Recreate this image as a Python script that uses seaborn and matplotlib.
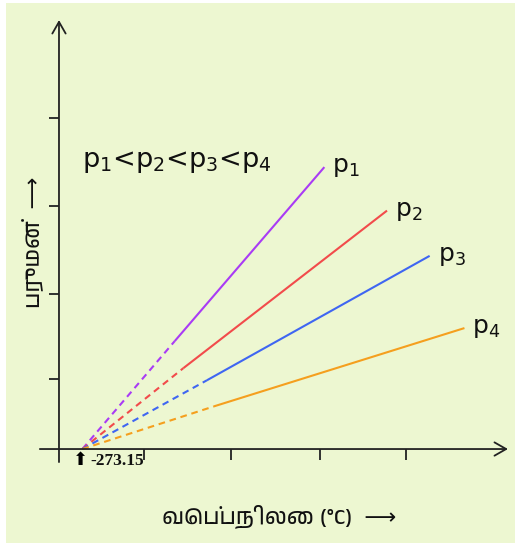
import matplotlib
matplotlib.use("Agg")
import matplotlib.pyplot as plt
from matplotlib import font_manager as fm
import pandas as pd
import seaborn as sns

# ---- data ----
series = ["p1", "p2", "p3", "p4"]
series_labels = ["p$_1$", "p$_2$", "p$_3$", "p$_4$"]
colors = ["#A93BF5", "#F24B4B", "#3F66F2", "#F59F1E"]
zero_temp = -273.15
zero_volume = 0.0
solid_start_temp = [-167, -157, -130, -122]
solid_start_vol = [1.24, 0.93, 0.79, 0.49]
end_temp = [5, 77, 126, 166]
end_vol = [3.24, 2.74, 2.22, 1.39]
x_ticks = [-202, -102, 0, 99]
y_ticks = [0.80, 1.78, 2.79, 3.80]
zero_label = "-273.15"
x_title = "வெப்பநிலை (°C)  ⟶"
y_title = "பருமன்  ⟶"
order_text = "p$_1$<p$_2$<p$_3$<p$_4$"

# ---- fonts ----
tamil = sorted({f.name for f in fm.fontManager.ttflist if "Tamil" in f.name})
fams = ([tamil[0]] if tamil else []) + ["DejaVu Sans"]

sns.set_theme(style="white")
plt.rcParams["font.family"] = ["DejaVu Sans"]
plt.rcParams["mathtext.fontset"] = "dejavusans"

fig = plt.figure(figsize=(5.16, 5.46), dpi=100, facecolor="white")
ax = fig.add_axes([6 / 516, 3 / 546, 509 / 516, 540 / 546])
ax.set_facecolor("#EDF7D1")
for s in ax.spines.values():
    s.set_visible(False)

ax.set_xlim(-360.9, 224.1)
ax.set_ylim(-1.080, 5.126)

lw = 1.5
for i, name in enumerate(series):
    dashed = pd.DataFrame({"t": [zero_temp, solid_start_temp[i]],
                           "v": [zero_volume, solid_start_vol[i]]})
    solid = pd.DataFrame({"t": [solid_start_temp[i], end_temp[i]],
                          "v": [solid_start_vol[i], end_vol[i]]})
    sns.lineplot(data=dashed, x="t", y="v", ax=ax, color=colors[i], lw=lw,
                 linestyle=(0, (3.2, 2.3)), legend=False)
    sns.lineplot(data=solid, x="t", y="v", ax=ax, color=colors[i], lw=lw,
                 legend=False, solid_capstyle="butt")
    ax.annotate(series_labels[i], xy=(end_temp[i], end_vol[i]),
                xytext=(8, 0), textcoords="offset pixels",
                ha="left", va="center", fontsize=18, color="#111111")

ax.set_xlabel("")
ax.set_ylabel("")

# axes with arrows
axis_col = "#222222"
ax.spines["bottom"].set_position(("data", 0))
ax.spines["left"].set_position(("data", -300))
ax.annotate("", xy=(216, 0), xytext=(-322, 0),
            arrowprops=dict(arrowstyle="->,head_length=0.7,head_width=0.4",
                            lw=1.3, color=axis_col, shrinkA=0, shrinkB=0))
ax.annotate("", xy=(-300, 4.93), xytext=(-300, -0.15),
            arrowprops=dict(arrowstyle="->,head_length=0.7,head_width=0.4",
                            lw=1.3, color=axis_col, shrinkA=0, shrinkB=0))
ax.set_xticks(x_ticks)
ax.set_yticks(y_ticks)
ax.set_xticklabels([])
ax.set_yticklabels([])
ax.tick_params(axis="x", bottom=True, direction="out", length=8, width=1.3,
               color=axis_col)
ax.tick_params(axis="y", left=True, direction="out", length=7.5, width=1.3,
               color=axis_col)

# intercept label
ax.annotate("⬆", xy=(zero_temp, 0), xytext=(-2, -11), textcoords="offset pixels",
            ha="center", va="center", fontsize=13, color="black",
            family="DejaVu Sans")
ax.annotate(zero_label, xy=(zero_temp, 0), xytext=(8, -12),
            textcoords="offset pixels", ha="left", va="center",
            fontsize=12.5, fontweight="bold", family="Liberation Serif",
            color="#111111")

# titles
ax.text(0.149, 0.706, order_text, transform=ax.transAxes, ha="left",
        va="center", fontsize=19.5, color="#111111")
ax.text(0.536, 0.048, x_title, transform=ax.transAxes, ha="center",
        va="center", fontsize=16, family=fams, color="#111111")
ax.text(0.053, 0.557, y_title, transform=ax.transAxes, ha="center",
        va="center", rotation=90, fontsize=16, family=fams, color="#111111")

fig.savefig("out.png", dpi=100, facecolor="white")
